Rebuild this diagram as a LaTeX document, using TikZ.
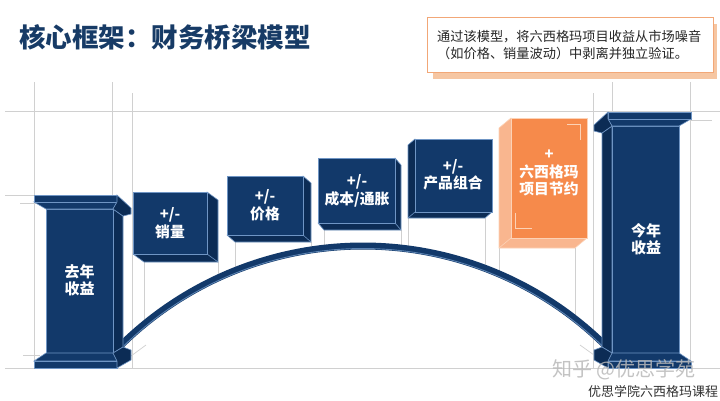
\documentclass[tikz,border=0pt]{standalone}
\usepackage{fontspec}
\setmainfont{Noto Sans CJK SC}
\definecolor{navy}{HTML}{12396A}
\definecolor{navyside}{HTML}{0C2C55}
\definecolor{edgeb}{HTML}{6F95C4}
\definecolor{orf}{HTML}{F68A4B}
\definecolor{ors}{HTML}{F9B68F}
\definecolor{ore}{HTML}{FCD2B6}
\definecolor{gridc}{HTML}{D0D0D0}
\definecolor{titlec}{HTML}{173B66}
\definecolor{calloutb}{HTML}{F2A777}
\definecolor{shadowc}{HTML}{F6C6A2}
\definecolor{bodytext}{HTML}{262626}
\tikzset{
  gline/.style={draw=gridc, line width=0.8pt},
  guide/.style={draw=gridc, line width=0.7pt},
  nfront/.style={fill=navy, draw=edgeb, line width=0.6pt},
  nside/.style={fill=navyside, draw=edgeb, line width=0.6pt},
  ofront/.style={fill=orf, draw=ore, line width=0.6pt},
  oside/.style={fill=ors, draw=ore, line width=0.6pt},
  boxlbl/.style={text=white, align=center, inner sep=0pt, font=\bfseries\fontsize{14.8}{17.5}\selectfont},
  pilllbl/.style={text=white, align=center, inner sep=0pt, font=\bfseries\fontsize{15}{17}\selectfont},
}
% pillar: #1 = top y (drawn oriented with bevel on the right)
\newcommand{\pillar}[1]{%
  \filldraw[nside] (113,{#1+14}) -- (123,{#1+21}) -- (123,347) -- (113,353) -- cycle;
  \filldraw[nfront] (46,{#1+14}) rectangle (113,353);
  \filldraw[nfront] (34,{#1+7}) -- (117,{#1+7}) -- (113,{#1+14}) -- (46,{#1+14}) -- cycle;
  \filldraw[nfront] (34,#1) rectangle (117,{#1+7});
  \filldraw[nside] (117,#1) -- (131,{#1+13}) -- (131,{#1+19}) -- (123,{#1+21}) -- (113,{#1+14}) -- (117,{#1+7}) -- cycle;
  \filldraw[nfront] (46,353) -- (113,353) -- (117,361) -- (34,361) -- cycle;
  \filldraw[nfront] (34,361) rectangle (117,368);
  \filldraw[nside] (113,353) -- (123,347) -- (131,350) -- (131,360) -- (117,368) -- (117,361) -- cycle;
}
% cube extruded to lower right: x1 y1 x2 y2 dx dy frontstyle sidestyle
\newcommand{\cubeR}[8]{%
  \filldraw[#8] (#3,#2) -- ({#3+#5},{#2+#6}) -- ({#3+#5},{#4+#6}) -- ({#1+#5},{#4+#6}) -- (#1,#4) -- cycle;
  \draw[#8] (#3,#4) -- ({#3+#5},{#4+#6});
  \filldraw[#7] (#1,#2) rectangle (#3,#4);
}
% cube extruded to lower left (dx negative)
\newcommand{\cubeL}[8]{%
  \filldraw[#8] (#1,#2) -- ({#1+#5},{#2+#6}) -- ({#1+#5},{#4+#6}) -- ({#3+#5},{#4+#6}) -- (#3,#4) -- cycle;
  \draw[#8] (#1,#4) -- ({#1+#5},{#4+#6});
  \filldraw[#7] (#1,#2) rectangle (#3,#4);
}
\begin{document}
\begin{tikzpicture}[x=1pt, y=-1pt,
  declare function={arcy(\x)=591-345*sqrt(1-((\x-363)/345)^2);}]
\useasboundingbox (0,0) rectangle (720,400);
\fill[white] (0,0) rectangle (720,400);

% ---- grid lines
\draw[gline] (5,111) -- (720,111);
\draw[gline] (5,368) -- (720,368);
\draw[gline] (34,82) -- (34,368);
\draw[gline] (112,82) -- (112,368);
\draw[gline] (132,93) -- (132,368);
\draw[gline] (593,93) -- (593,368);
\draw[gline] (612,82) -- (612,111);
\draw[gline] (690,82) -- (690,368);
\draw[gline] (5,195) -- (34,195);
\draw[gline] (20,203) -- (40,203);
\draw[gline] (23,355) -- (40,355);
\draw[gline] (690,120) -- (712,120);
\draw[guide] (131,356) -- (146,345);
\draw[guide] (580,345) -- (594,355);

% ---- guide lines under the blocks
\foreach \gx/\gy in {144/262, 218/262, 235/242, 311/242, 324/230, 401/230, 408/218, 485/218, 499/248, 575/248}
  \draw[guide] (\gx,\gy) -- (\gx,{arcy(\gx)});

% ---- bridge arc
\draw[navy, line width=7pt] plot[domain=118:608, samples=90] (\x,{arcy(\x)});
\draw[edgeb!80!navy, line width=0.9pt] plot[domain=124:602, samples=90] (\x,{591-342.5*sqrt(1-((\x-363)/342.5)^2)});

% ---- blocks
\cubeR{133}{192}{207}{254}{11}{8}{nfront}{nside}
\cubeR{227}{176}{303}{235}{8}{7}{nfront}{nside}
\cubeR{318}{158}{395}{223}{6}{7}{nfront}{nside}
\cubeL{415}{139}{492}{212}{-7}{6}{nfront}{nside}
\cubeL{511}{118}{587}{238}{-12}{10}{ofront}{oside}
\draw[ore, line width=0.8pt] (567,124) -- (580,124) -- (580,140);
\draw[ore, line width=0.8pt] (515,213) -- (515,228) -- (532,228);

% ---- pillars
\pillar{195}
\begin{scope}[xshift=725pt, xscale=-1]
  \pillar{112}
\end{scope}

% ---- labels
\node[pilllbl] (lastyear) at (79.5,280) {去年\\收益};
\node[pilllbl] (thisyear) at (646,239) {今年\\收益};
\node[boxlbl] (b1) at (170,223) {+/-\\销量};
\node[boxlbl] (b2) at (265,205) {+/-\\价格};
\node[boxlbl] (b3) at (357,191) {+/-\\成本/通胀};
\node[boxlbl] (b4) at (453,175) {+/-\\产品组合};
\node[boxlbl] (b5) at (549,173) {+\\六西格玛\\项目节约};

% ---- title
\node[anchor=west, inner sep=0pt, text=titlec, font=\bfseries\fontsize{26.5}{30}\selectfont] (title) at (19,37) {核心框架：财务桥梁模型};

% ---- callout
\fill[shadowc] (433,24) rectangle (717,79);
\filldraw[fill=white, draw=calloutb, line width=1pt] (427,17) rectangle (713,72);
\node[anchor=west, align=left, inner sep=0pt, text=bodytext, font=\fontsize{13.2}{16.5}\selectfont] (note) at (437,45) {通过该模型，将六西格玛项目收益从市场噪音\\（如价格、销量波动）中剥离并独立验证。};

% ---- watermark and source
\node[text=gray!55, opacity=0.85, inner sep=0pt, font=\fontsize{20}{20}\selectfont] (wm) at (624,370) {知乎 @优思学苑};
\node[text=black!80, inner sep=0pt, font=\fontsize{13}{13}\selectfont] (src) at (653,391) {优思学院六西格玛课程};
\end{tikzpicture}
\end{document}
